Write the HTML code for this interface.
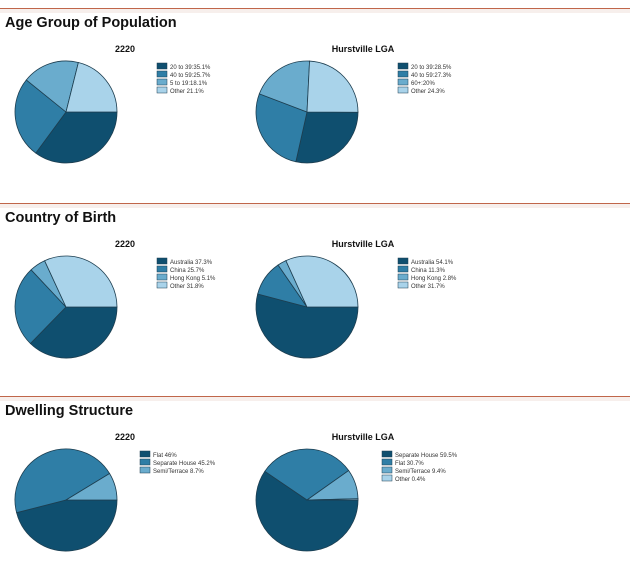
<!DOCTYPE html>
<html><head><meta charset="utf-8"><style>
body{margin:0;background:#fff;width:630px;height:578px;overflow:hidden;font-family:"Liberation Sans",Arial,sans-serif}
</style></head><body>
<svg id="s" width="630" height="578" xmlns="http://www.w3.org/2000/svg" font-family="Liberation Sans, Arial, sans-serif"></svg>
<script>
var C=["#0f4f6f","#2f7ea6","#6aaccd","#a9d3ea"];
var S=document.getElementById('s');var h='';
function pie(cx,cy,r,vals){var a=0;vals.forEach(function(v,i){var b=a+v/100*2*Math.PI;
var x1=cx+r*Math.cos(a),y1=cy+r*Math.sin(a),x2=cx+r*Math.cos(b),y2=cy+r*Math.sin(b);
h+='<path d="M'+cx+' '+cy+'L'+x1.toFixed(2)+' '+y1.toFixed(2)+'A'+r+' '+r+' 0 '+((b-a)>Math.PI?1:0)+' 1 '+x2.toFixed(2)+' '+y2.toFixed(2)+'Z" fill="'+C[i]+'" stroke="#1d3e50" stroke-width="0.8"/>';a=b;});}
function leg(x,y,labels){labels.forEach(function(t,i){h+='<rect x="'+x+'" y="'+(y+i*8)+'" width="10" height="6" fill="'+C[i]+'" stroke="#1d3e50" stroke-width="0.5"/><text x="'+(x+13)+'" y="'+(y+i*8+6)+'" font-size="6" fill="#333">'+t+'</text>';});}
function sec(ly,title,d1,l1,d2,l2,lx1,lx2){
h+='<rect x="0" y="'+ly+'" width="630" height="1" fill="#c0664a"/><rect x="0" y="'+(ly+1)+'" width="630" height="4" fill="#f7efec"/>';
h+='<text x="5" y="'+(ly+19)+'" font-size="14.5" font-weight="bold" fill="#111">'+title+'</text>';
h+='<text x="125" y="'+(ly+44)+'" font-size="9" font-weight="bold" text-anchor="middle" fill="#111">2220</text>';
h+='<text x="363" y="'+(ly+44)+'" font-size="9" font-weight="bold" text-anchor="middle" fill="#111">Hurstville LGA</text>';
pie(66,ly+104,51,d1);pie(307,ly+104,51,d2);leg(lx1,ly+55,l1);leg(lx2,ly+55,l2);}
sec(8,"Age Group of Population",[35.1,25.7,18.1,21.1],["20 to 39:35.1%","40 to 59:25.7%","5 to 19:18.1%","Other 21.1%"],[28.5,27.3,20,24.3],["20 to 39:28.5%","40 to 59:27.3%","60+:20%","Other 24.3%"],157,398);
sec(203,"Country of Birth",[37.3,25.7,5.1,31.9],["Australia 37.3%","China 25.7%","Hong Kong 5.1%","Other 31.8%"],[54.1,11.3,2.8,31.8],["Australia 54.1%","China 11.3%","Hong Kong 2.8%","Other 31.7%"],157,398);
sec(396,"Dwelling Structure",[46,45.3,8.7],["Flat 46%","Separate House 45.2%","Semi/Terrace 8.7%"],[59.5,30.7,9.4,0.4],["Separate House 59.5%","Flat 30.7%","Semi/Terrace 9.4%","Other 0.4%"],140,382);
h+='<rect x="0" y="578" width="470" height="1" fill="#ddd"/>';
S.innerHTML=h;
</script>
</body></html>
